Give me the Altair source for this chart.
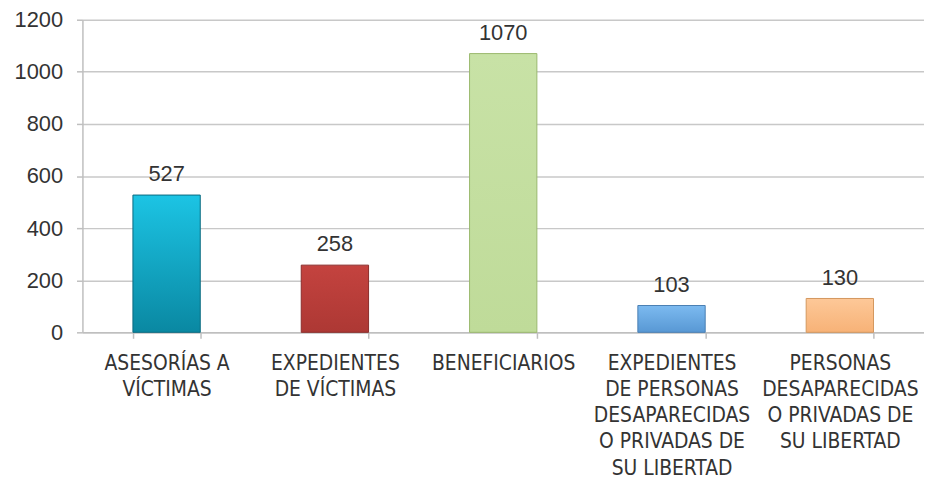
import altair as alt
import pandas as pd

categories = [
    "ASESORÍAS A|VÍCTIMAS",
    "EXPEDIENTES|DE VÍCTIMAS",
    "BENEFICIARIOS",
    "EXPEDIENTES|DE PERSONAS|DESAPARECIDAS|O PRIVADAS DE|SU LIBERTAD",
    "PERSONAS|DESAPARECIDAS|O PRIVADAS DE|SU LIBERTAD",
]
values = [527, 258, 1070, 103, 130]
top_colors = ["#1cc4e4", "#c4433f", "#c8e2a6", "#7cbaf0", "#fdc898"]
bottom_colors = ["#0a88a2", "#ad3834", "#bfdb99", "#5898d4", "#f7b277"]
stroke_colors = ["#0a6a80", "#8a2c2a", "#9ab86e", "#4a7fb2", "#d4975e"]
y_ticks = [0, 200, 400, 600, 800, 1000, 1200]

df = pd.DataFrame({"cat": categories, "val": values})

x = alt.X(
    "cat:N",
    sort=categories,
    scale=alt.Scale(domain=categories, paddingInner=0.6, paddingOuter=0.3),
    axis=alt.Axis(
        title=None,
        labelAngle=0,
        labelExpr="split(datum.label, '|')",
        tickBand="extent",
        ticks=True,
        tickSize=6,
        tickColor="#bfbfbf",
        tickWidth=1.5,
        labelFont="Liberation Sans Narrow, DejaVu Sans Condensed, Roboto Condensed, Liberation Sans",
        labelFontSize=21,
        labelColor="#333333",
        labelLineHeight=26.5,
        labelPadding=14,
        labelLimit=0,
        labelOverlap=False,
        labelBaseline="top",
        domainColor="#bfbfbf",
        domainWidth=1.5,
        grid=False,
    ),
)
y = alt.Y(
    "val:Q",
    scale=alt.Scale(domain=[0, 1200]),
    axis=alt.Axis(
        title=None,
        values=y_ticks,
        format="d",
        labelFont="Liberation Sans",
        labelFontSize=22,
        labelColor="#333333",
        labelPadding=14,
        tickSize=6,
        tickColor="#bfbfbf",
        tickWidth=1.5,
        domainColor="#bfbfbf",
        domainWidth=1.5,
        gridColor="#c8c8c8",
        gridWidth=1.5,
    ),
)

layers = []
for c, t, b, s in zip(categories, top_colors, bottom_colors, stroke_colors):
    layers.append(
        alt.Chart(df)
        .transform_filter(alt.datum.cat == c)
        .mark_bar(
            color=alt.Gradient(
                gradient="linear",
                stops=[
                    alt.GradientStop(color=t, offset=0),
                    alt.GradientStop(color=b, offset=1),
                ],
                x1=0, x2=0, y1=0, y2=1,
            ),
            stroke=s,
            strokeWidth=1,
        )
        .encode(x=x, y=y)
    )

text = (
    alt.Chart(df)
    .mark_text(dy=-14, baseline="alphabetic", fontSize=22, font="Liberation Sans", color="#333333")
    .encode(x=x, y=y, text="val:Q")
)

chart = (
    alt.layer(*layers, text)
    .properties(
        width=848,
        height=315,
        autosize=alt.AutoSizeParams(type="none"),
        padding={"left": 75, "top": 10, "right": 0, "bottom": 150},
    )
    .configure_view(stroke=None)
)

chart.save("out.html", embed_options={"renderer": "svg", "actions": False})
